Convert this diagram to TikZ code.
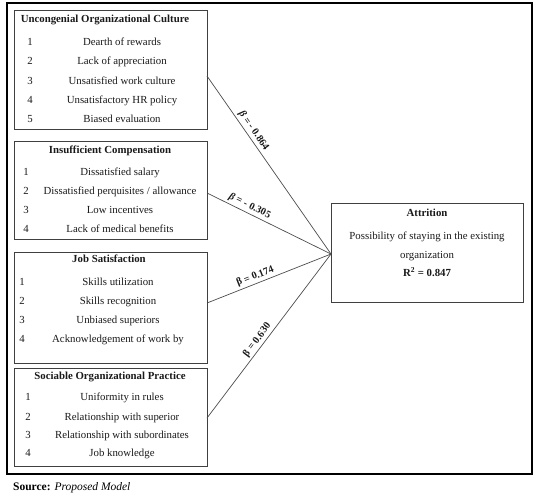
\documentclass[tikz,border=0pt]{standalone}
\usepackage{fontspec}
\setmainfont{Liberation Serif}
\begin{document}
\begin{tikzpicture}[x=1pt,y=-1pt,
  box/.style={draw=black!75,line width=0.9pt,inner sep=0pt,outer sep=0pt},
  txt/.style={font=\fontsize{10.8}{12}\selectfont,text=black!90,inner sep=0pt,text height=7.5pt,text depth=2.5pt},
  ttl/.style={txt,font=\fontsize{10.8}{12}\selectfont\bfseries},
  conn/.style={draw=black!70,line width=0.7pt},
  lbl/.style={font=\fontsize{10.2}{12}\selectfont\bfseries,text=black!90,sloped,above,inner sep=2pt}]
\useasboundingbox (0,0) rectangle (537,498);
% outer frame
\node[draw=black,line width=1.8pt,minimum width=525pt,minimum height=471pt,inner sep=0pt] (frame) at (269.5,238.5) {};
% box 1
\node[box,minimum width=193pt,minimum height=119pt] (b1) at (110.5,69.5) {};
\node[ttl] (b1t) at (105,20) {Uncongenial Organizational Culture};
\node[txt] (b1n1) at (30,43) {1}; \node[txt] (b1i1) at (122,43) {Dearth of rewards};
\node[txt] (b1n2) at (30,62) {2}; \node[txt] (b1i2) at (122,62) {Lack of appreciation};
\node[txt] (b1n3) at (30,82) {3}; \node[txt] (b1i3) at (122,82) {Unsatisfied work culture};
\node[txt] (b1n4) at (30,101) {4}; \node[txt] (b1i4) at (122,101) {Unsatisfactory HR policy};
\node[txt] (b1n5) at (30,120) {5}; \node[txt] (b1i5) at (122,120) {Biased evaluation};
% box 2
\node[box,minimum width=193pt,minimum height=98pt] (b2) at (110.5,190) {};
\node[ttl] (b2t) at (110,151) {Insufficient Compensation};
\node[txt] (b2n1) at (26,173) {1}; \node[txt] (b2i1) at (120,173) {Dissatisfied salary};
\node[txt] (b2n2) at (26,192) {2}; \node[txt] (b2i2) at (120,192) {Dissatisfied perquisites / allowance};
\node[txt] (b2n3) at (26,211) {3}; \node[txt] (b2i3) at (120,211) {Low incentives};
\node[txt] (b2n4) at (26,230) {4}; \node[txt] (b2i4) at (120,230) {Lack of medical benefits};
% box 3
\node[box,minimum width=193pt,minimum height=111pt] (b3) at (110.5,307.5) {};
\node[ttl] (b3t) at (109,260) {Job Satisfaction};
\node[txt] (b3n1) at (22,283) {1}; \node[txt] (b3i1) at (118,283) {Skills utilization};
\node[txt] (b3n2) at (22,302) {2}; \node[txt] (b3i2) at (118,302) {Skills recognition};
\node[txt] (b3n3) at (22,321) {3}; \node[txt] (b3i3) at (118,321) {Unbiased superiors};
\node[txt] (b3n4) at (22,340) {4}; \node[txt] (b3i4) at (118,340) {Acknowledgement of work by};
% box 4
\node[box,minimum width=193pt,minimum height=98pt] (b4) at (110.5,417) {};
\node[ttl] (b4t) at (110,377) {Sociable Organizational Practice};
\node[txt] (b4n1) at (28,398) {1}; \node[txt] (b4i1) at (122,398) {Uniformity in rules};
\node[txt] (b4n2) at (28,418) {2}; \node[txt] (b4i2) at (122,418) {Relationship with superior};
\node[txt] (b4n3) at (28,436) {3}; \node[txt] (b4i3) at (122,436) {Relationship with subordinates};
\node[txt] (b4n4) at (28,454) {4}; \node[txt] (b4i4) at (122,454) {Job knowledge};
% attrition box
\node[box,minimum width=192pt,minimum height=99pt] (att) at (427,252.5) {};
\node[ttl] (attt) at (427,214) {Attrition};
\node[txt] (att1) at (427,237) {Possibility of staying in the existing};
\node[txt] (att2) at (427,256) {organization};
\node[ttl] (att3) at (427,274) {R\textsuperscript{2} = 0.847};
% connectors
\draw[conn] ([yshift=-6.5pt]b1.east) -- node[lbl,pos=0.33] {\textit{β} = - 0.864} ([yshift=-1.5pt]att.west);
\draw[conn] ([yshift=-3pt]b2.east) -- node[lbl,pos=0.32] {\textit{β} = - 0.305} ([yshift=-1.5pt]att.west);
\draw[conn] ([yshift=4.5pt]b3.east) -- node[lbl,pos=0.41] {β = 0.174} ([yshift=-1.5pt]att.west);
\draw[conn] ([yshift=-1pt]b4.east) -- node[lbl,pos=0.45] {β = 0.630} ([yshift=-1.5pt]att.west);
% source
\node[anchor=west,inner sep=0pt,font=\fontsize{11.5}{13}\selectfont] (src) at (13,488) {\textbf{Source:} \textit{Proposed Model}};
\end{tikzpicture}
\end{document}
